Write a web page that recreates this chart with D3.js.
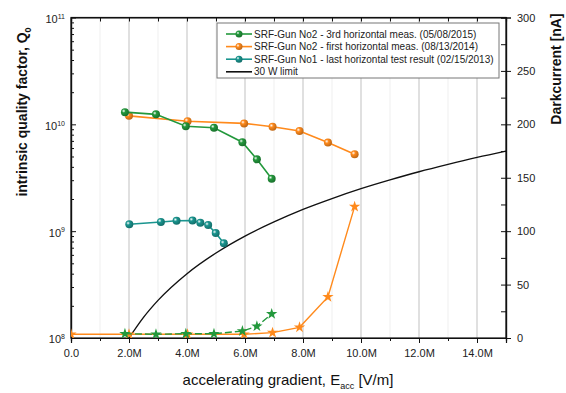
<!DOCTYPE html>
<html>
<head>
<meta charset="utf-8">
<script src="https://cdn.jsdelivr.net/npm/d3@7"></script>
<style>
  body { margin: 0; background: #fff; }
  svg { font-family: "Liberation Sans", Arial, sans-serif; }
</style>
</head>
<body>
<div id="mainDiv"></div>
<script>
// gradient in V/m, Q0 and dark current in nA
var gun2_2015_E = [1.86e6, 2.93e6, 3.96e6, 4.93e6, 5.91e6, 6.41e6, 6.92e6];
var gun2_2015_Q = [1.30e10, 1.24e10, 9.6e9, 9.3e9, 6.8e9, 4.7e9, 3.1e9];
var gun2_2015_dc = [4, 3.5, 4, 4, 6.5, 11, 22.5];

var gun2_2014_E = [2.0e6, 4.02e6, 5.97e6, 6.95e6, 7.88e6, 8.86e6, 9.78e6];
var gun2_2014_Q = [1.20e10, 1.07e10, 1.02e10, 9.5e9, 8.65e9, 6.75e9, 5.25e9];
var gun2_2014_dcE = [0, 2.0e6, 4.02e6, 5.97e6, 6.95e6, 7.88e6, 8.86e6, 9.78e6];
var gun2_2014_dc = [3.5, 3.5, 3.5, 3.5, 5, 10, 38.5, 123];

var gun1_2013_E = [2.01e6, 3.10e6, 3.64e6, 4.19e6, 4.46e6, 4.73e6, 4.99e6, 5.27e6];
var gun1_2013_Q = [1.16e9, 1.22e9, 1.25e9, 1.26e9, 1.20e9, 1.14e9, 9.6e8, 7.7e8];

var limit_E = [2.0e6, 2.5e6, 3e6, 4e6, 5e6, 6e6, 7e6, 8e6, 9e6, 10e6, 11e6, 12e6, 13e6, 14e6, 15e6];
var limit_Q = [1.0e8, 1.56e8, 2.25e8, 4.0e8, 6.25e8, 9.0e8, 1.22e9, 1.6e9, 2.02e9, 2.5e9, 3.02e9, 3.6e9, 4.22e9, 4.9e9, 5.62e9];

var xTicks = [0, 2e6, 4e6, 6e6, 8e6, 10e6, 12e6, 14e6];
var xMinor = [1e6, 3e6, 5e6, 7e6, 9e6, 11e6, 13e6, 15e6];
var qTicks = [1e8, 1e9, 1e10, 1e11];
var dcTicks = [0, 50, 100, 150, 200, 250, 300];

var legendLabels = [
    'SRF-Gun No2 - 3rd horizontal meas. (05/08/2015)',
    'SRF-Gun No2 - first horizontal meas. (08/13/2014)',
    'SRF-Gun No1 - last horizontal test result (02/15/2013)',
    '30 W limit'
];
var colors = { green: '#23983c', orange: '#ff8a1c', teal: '#1a958f', black: '#111' };

var W = 566, H = 393,
    pLeft = 71, pRight = 506, pTop = 17.5, pBottom = 338;

var svg = d3.select('#mainDiv').append('svg')
    .attr('width', W).attr('height', H);

var x = d3.scaleLinear().domain([0, 15e6]).range([pLeft, pRight]);
var yQ = d3.scaleLog().domain([1e8, 1e11]).range([pBottom, pTop]);
var yD = d3.scaleLinear().domain([0, 300]).range([pBottom, pTop]);

// ball gradients
var defs = svg.append('defs');
[['green', colors.green], ['orange', colors.orange], ['teal', colors.teal]].forEach(function (c) {
    var g = defs.append('radialGradient').attr('id', 'ball_' + c[0])
        .attr('cx', '35%').attr('cy', '35%').attr('r', '65%');
    g.append('stop').attr('offset', '0%').attr('stop-color', '#fff').attr('stop-opacity', 0.9);
    g.append('stop').attr('offset', '35%').attr('stop-color', c[1]);
    g.append('stop').attr('offset', '100%').attr('stop-color', d3.color(c[1]).darker(0.8));
});
defs.append('clipPath').attr('id', 'plotClip').append('rect')
    .attr('x', pLeft).attr('y', pTop).attr('width', pRight - pLeft).attr('height', pBottom - pTop);

// grid
svg.append('g').selectAll('line').data(xMinor.filter(function (d) { return d < 15e6; }))
    .join('line')
    .attr('x1', x).attr('x2', x).attr('y1', pTop).attr('y2', pBottom)
    .attr('stroke', '#efefef').attr('stroke-width', 1);
svg.append('g').selectAll('line').data(xTicks.slice(1))
    .join('line')
    .attr('x1', x).attr('x2', x).attr('y1', pTop).attr('y2', pBottom)
    .attr('stroke', '#d6d6d6').attr('stroke-width', 1.5);

// axes
var fmtX = function (d) { return d === 0 ? '0.0' : (d / 1e6).toFixed(1) + 'M'; };
svg.append('g').attr('transform', 'translate(0,' + pBottom + ')')
    .call(d3.axisBottom(x).tickValues(xTicks).tickFormat(fmtX).tickSize(5).tickPadding(6));
svg.append('g').attr('transform', 'translate(0,' + pBottom + ')')
    .call(d3.axisBottom(x).tickValues(xMinor).tickFormat('').tickSize(3));
svg.append('g').attr('transform', 'translate(0,' + pTop + ')')
    .call(d3.axisBottom(x).tickValues(xTicks.concat(xMinor)).tickFormat('').tickSize(4));

var qMinor = [];
[1e8, 1e9, 1e10].forEach(function (dec) {
    for (var k = 2; k < 10; k++) qMinor.push(dec * k);
});
var gl = svg.append('g').attr('transform', 'translate(' + pLeft + ',0)')
    .call(d3.axisLeft(yQ).tickValues(qTicks).tickFormat('').tickSizeInner(-5).tickSizeOuter(0));
svg.append('g').attr('transform', 'translate(' + pLeft + ',0)')
    .call(d3.axisLeft(yQ).tickValues(qMinor).tickFormat('').tickSizeInner(-3).tickSizeOuter(0));
gl.selectAll('.tick text').remove();
gl.selectAll('.tick').each(function (d) {
    var t = d3.select(this).append('text')
        .attr('x', -6).attr('dy', '0.45em')
        .attr('text-anchor', 'end').attr('fill', '#222').attr('font-size', 11);
    t.append('tspan').text('10');
    t.append('tspan').attr('dy', '-0.6em').attr('font-size', 7).text(Math.round(Math.log10(d)));
});

var gr = svg.append('g').attr('transform', 'translate(' + pRight + ',0)')
    .call(d3.axisRight(yD).tickValues(dcTicks).tickSize(5).tickPadding(6));
svg.append('g').attr('transform', 'translate(' + pRight + ',0)')
    .call(d3.axisRight(yD).tickValues([25, 75, 125, 175, 225, 275]).tickFormat('').tickSize(-5));
gr.selectAll('.tick line').attr('x1', -5);

svg.selectAll('.domain').attr('stroke', '#111').attr('stroke-width', 1.2);
svg.selectAll('.tick line').attr('stroke', '#111');
svg.selectAll('.tick text').attr('font-size', 11).attr('fill', '#222')
    .attr('font-family', '"Liberation Sans", Arial, sans-serif');

// frame
svg.append('rect').attr('x', pLeft).attr('y', pTop).attr('width', pRight - pLeft).attr('height', pBottom - pTop)
    .attr('fill', 'none').attr('stroke', '#111').attr('stroke-width', 1.2);

// data
var plot = svg.append('g').attr('clip-path', 'url(#plotClip)');
var zip = function (a, b) { return a.map(function (v, i) { return [v, b[i]]; }); };

var limLine = d3.line().x(function (d) { return x(d[0]); }).y(function (d) { return yQ(d[1]); })
    .curve(d3.curveMonotoneX);
plot.append('path').datum(zip(limit_E, limit_Q)).attr('d', limLine)
    .attr('fill', 'none').attr('stroke', colors.black).attr('stroke-width', 1.4);

var dcLine = d3.line().x(function (d) { return x(d[0]); }).y(function (d) { return yD(d[1]); });
var star = d3.symbol().type(d3.symbolStar).size(40);
function drawDC(E, V, col, dash) {
    var pts = zip(E, V);
    plot.append('path').datum(pts).attr('d', dcLine)
        .attr('fill', 'none').attr('stroke', col).attr('stroke-width', 1.4)
        .attr('stroke-dasharray', dash || null);
    plot.append('g').selectAll('path').data(pts).join('path')
        .attr('d', star)
        .attr('transform', function (d) { return 'translate(' + x(d[0]) + ',' + yD(d[1]) + ')'; })
        .attr('fill', col);
}
drawDC(gun2_2014_dcE, gun2_2014_dc, colors.orange);
drawDC(gun2_2015_E, gun2_2015_dc, colors.green, '7,3');

var qLine = d3.line().x(function (d) { return x(d[0]); }).y(function (d) { return yQ(d[1]); });
function drawQ(E, Q, key) {
    var pts = zip(E, Q);
    plot.append('path').datum(pts).attr('d', qLine)
        .attr('fill', 'none').attr('stroke', colors[key]).attr('stroke-width', 1.6);
    plot.append('g').selectAll('circle').data(pts).join('circle')
        .attr('cx', function (d) { return x(d[0]); })
        .attr('cy', function (d) { return yQ(d[1]); })
        .attr('r', 4).attr('fill', 'url(#ball_' + key + ')');
}
drawQ(gun1_2013_E, gun1_2013_Q, 'teal');
drawQ(gun2_2014_E, gun2_2014_Q, 'orange');
drawQ(gun2_2015_E, gun2_2015_Q, 'green');

// legend
var lg = svg.append('g');
lg.append('rect').attr('x', 217).attr('y', 23).attr('width', 282).attr('height', 55)
    .attr('fill', '#fff').attr('stroke', '#777').attr('stroke-width', 1);
var legKeys = ['green', 'orange', 'teal', 'black'];
legendLabels.forEach(function (lab, i) {
    var yy = 34 + i * 12.6;
    lg.append('line').attr('x1', 226).attr('x2', 252).attr('y1', yy).attr('y2', yy)
        .attr('stroke', colors[legKeys[i]]).attr('stroke-width', 1.6);
    if (i < 3) {
        lg.append('circle').attr('cx', 239).attr('cy', yy).attr('r', 3.5)
            .attr('fill', 'url(#ball_' + legKeys[i] + ')');
    }
    lg.append('text').attr('x', 254).attr('y', yy).attr('dy', '0.35em')
        .attr('font-size', 10).attr('fill', '#222').text(lab);
});

// axis titles
var xt = svg.append('text').attr('x', 288).attr('y', 385).attr('text-anchor', 'middle')
    .attr('font-size', 15).attr('fill', '#111');
xt.append('tspan').text('accelerating gradient, E');
xt.append('tspan').attr('dy', 4).attr('font-size', 9).text('acc');
xt.append('tspan').attr('dy', -4).text(' [V/m]');

var yt = svg.append('text').attr('transform', 'translate(27,112) rotate(-90)')
    .attr('text-anchor', 'middle').attr('font-size', 14).attr('font-weight', 'bold').attr('fill', '#111');
yt.append('tspan').text('intrinsic quality factor, Q');
yt.append('tspan').attr('dy', 4).attr('font-size', 9).text('0');

svg.append('text').attr('transform', 'translate(561,69) rotate(-90)')
    .attr('text-anchor', 'middle').attr('font-size', 14).attr('font-weight', 'bold').attr('fill', '#111')
    .text('Darkcurrent [nA]');
</script>
</body>
</html>
